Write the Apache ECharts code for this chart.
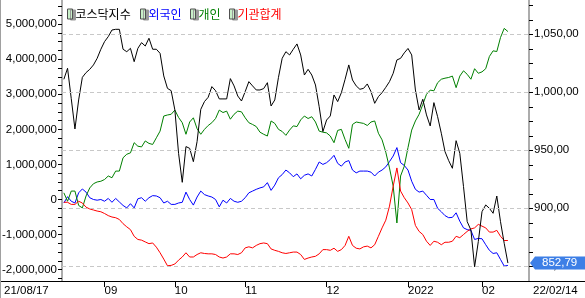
<!DOCTYPE html>
<html><head><meta charset="utf-8">
<script src="https://cdn.jsdelivr.net/npm/echarts@6/dist/echarts.min.js"></script>
<style>html,body{margin:0;padding:0;background:#fff;}#c{width:585px;height:298px;}</style>
</head><body><div id="c"></div>
<script>
// ---- data (trading days 21/08/17 .. 22/02/14) ----
const seriesNames = ['코스닥지수', '외국인', '개인', '기관합계'];
const kosdaq = [1011.2,1020.7,994.5,968.4,993.4,1012.9,1017.0,1019.8,1023.6,1029.3,
1037.1,1043.7,1048.0,1053.7,1054.3,1054.3,1037.1,1035.0,1037.9,1026.4,
1037.9,1042.8,1039.9,1046.6,1037.1,1037.1,1033.6,1014.1,1003.4,1001.4,
984.8,947.4,922.4,953.2,951.7,940.2,957.5,985.3,992.0,995.7,
1004.9,1001.4,994.3,994.3,994.3,1011.8,1005.5,996.8,992.5,1000.6,
1009.2,1005.5,1002.0,1002.0,1003.2,1008.3,988.2,993.4,1012.9,1029.3,
1035.0,1032.2,1037.1,1041.7,1032.2,1014.9,1019.8,1014.9,1006.3,987.6,
966.1,976.1,979.6,997.7,992.0,999.7,1011.2,1023.6,1010.6,1005.5,
1002.6,1003.4,1007.2,1000.6,990.5,996.3,999.7,1004.3,1009.2,1016.4,
1027.9,1029.3,1034.0,1037.8,1032.2,1002.0,984.8,994.0,980.5,971.0,
991.1,979.0,964.7,948.9,941.1,934.5,958.3,947.4,918.7,888.5,
881.3,849.6,871.3,897.1,902.9,900.0,895.7,910.6,888.5,869.8,852.79];
const foreign = [-100000,80000,-50000,-100000,190000,300000,210000,50000,0,-20000,
0,-50000,30000,-80000,30000,-70000,-170000,-240000,-120000,-240000,
20000,50000,-50000,50000,110000,100000,50000,-100000,-50000,-140000,
-140000,-100000,-80000,210000,0,-160000,70000,240000,140000,100000,
70000,0,-210000,-20000,-100000,30000,-50000,-80000,-50000,50000,
190000,240000,290000,330000,360000,480000,260000,410000,620000,710000,
840000,760000,650000,730000,590000,690000,730000,670000,860000,1070000,
1000000,1050000,1140000,1260000,1030000,950000,1070000,1110000,840000,760000,
810000,810000,810000,780000,670000,780000,840000,930000,1080000,1240000,
1480000,1050000,970000,840000,520000,290000,210000,240000,120000,0,
0,-250000,-350000,-460000,-520000,-510000,-380000,-620000,-810000,-860000,
-880000,-1140000,-1110000,-1120000,-1290000,-1450000,-1540000,-1520000,-1710000,-1900000,-1880000];
const individual = [190000,-50000,240000,240000,-170000,-240000,100000,330000,450000,500000,
520000,570000,670000,620000,810000,810000,1190000,1290000,1330000,1620000,
1520000,1500000,1670000,1600000,1570000,1760000,1950000,2380000,2410000,2430000,
2550000,2340000,2190000,1860000,2210000,2330000,2020000,1860000,2000000,2110000,
2190000,2310000,2550000,2480000,2520000,2290000,2430000,2520000,2500000,2330000,
2190000,2140000,2080000,1920000,1860000,1810000,2240000,2170000,2000000,1940000,
1830000,1980000,2100000,2080000,2270000,2380000,2310000,2360000,2210000,1950000,
1920000,1900000,1810000,1620000,1970000,2000000,1710000,1460000,2140000,2210000,
2190000,2170000,2110000,2210000,2240000,1890000,1700000,1350000,900000,380000,
-670000,670000,950000,1480000,1980000,2240000,2430000,2710000,3000000,3120000,
3100000,3330000,3430000,3460000,3480000,3520000,3190000,3520000,3670000,3570000,
3430000,3730000,3600000,3640000,3730000,4080000,4240000,4220000,4620000,4880000,4790000];
const institution = [-80000,-80000,-140000,-140000,-50000,-100000,-220000,-270000,-300000,-330000,
-350000,-400000,-460000,-500000,-520000,-570000,-690000,-780000,-860000,-1050000,
-1140000,-1160000,-1210000,-1260000,-1240000,-1360000,-1520000,-1700000,-1890000,-1880000,
-1840000,-1730000,-1640000,-1520000,-1640000,-1640000,-1570000,-1520000,-1540000,-1550000,
-1550000,-1570000,-1640000,-1670000,-1640000,-1550000,-1550000,-1570000,-1520000,-1380000,
-1350000,-1380000,-1310000,-1260000,-1240000,-1260000,-1410000,-1450000,-1480000,-1520000,
-1540000,-1520000,-1500000,-1500000,-1570000,-1710000,-1670000,-1640000,-1620000,-1550000,
-1430000,-1430000,-1450000,-1390000,-1480000,-1430000,-1310000,-1050000,-1310000,-1390000,
-1410000,-1350000,-1330000,-1380000,-1290000,-1050000,-810000,-590000,-190000,380000,
900000,240000,50000,-100000,-290000,-740000,-910000,-1000000,-1190000,-1310000,
-1190000,-1220000,-1290000,-1220000,-1220000,-1190000,-1050000,-1090000,-1000000,-910000,
-840000,-810000,-710000,-760000,-810000,-930000,-930000,-880000,-1050000,-1170000,-1170000];
const monthTicks = [11, 30, 49, 71, 93, 113];          // first trading day of each month (index)
const monthLabels = ['09', '10', '11', '12', '2022', '02'];
const rangeLabels = ['21/08/17', '22/02/14'];
const leftLabelValues = [-2000000,-1000000,0,1000000,2000000,3000000,4000000,5000000];
const rightLabelValues = [850, 900, 950, 1000, 1050];

// ---- styling / layout ----
const FONT = '"Liberation Sans", Arial, sans-serif';
const KFONT = '"Noto Sans CJK KR", "Liberation Sans", sans-serif';
const colors = ['#000000', '#0000ff', '#008000', '#ff0000'];
const leftTicks = []; for (let v = -2250000; v <= 5500000; v += 250000) leftTicks.push(v);
const rightTicks = []; for (let v = 837.5; v <= 1075; v += 12.5) rightTicks.push(v);
const fmtRight = v => { const p = v.toFixed(2).split('.'); return Number(p[0]).toLocaleString('en-US') + ',' + p[1]; };
const toPairs = arr => arr.map((v, i) => [i, v]);

const chart = echarts.init(document.getElementById('c'), null, {renderer: 'canvas'});
const legendLefts = [62, 135, 185, 224];
const option = {
  animation: false,
  backgroundColor: '#ffffff',
  grid: {left: 62, right: 56, top: 0, bottom: 17, containLabel: false, outerBoundsMode: 'none'},
  legend: seriesNames.map((n, k) => ({
    left: legendLefts[k], top: 3, data: [n], selectedMode: false,
    icon: 'rect', itemWidth: 5, itemHeight: 10, itemGap: 0,
    itemStyle: {color: '#c8f0c8', borderColor: '#505050', borderWidth: 1,
      shadowColor: '#9a9a9a', shadowOffsetX: 3, shadowOffsetY: 1, shadowBlur: 0},
    textStyle: {color: colors[k], fontSize: 12, fontFamily: KFONT, padding: [0, 0, 0, -2]}
  })),
  xAxis: {
    type: 'value', min: -0.5, max: 125.7,
    axisLine: {show: true, onZero: false, lineStyle: {color: '#000', width: 1}},
    axisTick: {show: true, customValues: monthTicks, length: 6, inside: false, lineStyle: {color: '#000'}},
    axisLabel: {customValues: monthTicks, formatter: v => monthLabels[monthTicks.indexOf(v)],
      align: 'left', margin: 4, padding: [0, 0, 0, 0], fontSize: 11.5, color: '#000', fontFamily: FONT},
    splitLine: {show: false}
  },
  yAxis: [{
    type: 'value', position: 'left', min: -2325000, max: 5690000,
    axisLine: {show: true, onZero: false, lineStyle: {color: '#909090', width: 1.5}},
    axisTick: {show: true, customValues: leftTicks, length: 4, inside: false, lineStyle: {color: '#000'}},
    axisLabel: {customValues: leftLabelValues, formatter: v => v.toLocaleString('en-US'),
      margin: 5, fontSize: 11.5, color: '#000', fontFamily: FONT},
    splitLine: {show: false}
  }, {
    type: 'value', position: 'right', min: 837.33, max: 1079.57,
    axisLine: {show: true, onZero: false, lineStyle: {color: '#909090', width: 1.5}},
    axisTick: {show: true, customValues: rightTicks, length: 4, inside: false, lineStyle: {color: '#000'}},
    axisLabel: {customValues: rightLabelValues, formatter: v => fmtRight(v),
      margin: 5, fontSize: 11.5, color: '#000', fontFamily: FONT},
    splitLine: {show: false}
  }],
  series: [
    {type: 'line', name: '__grid', yAxisIndex: 1, data: [], z: 1, silent: true,
      markLine: {silent: true, symbol: 'none', animation: false, label: {show: false},
        lineStyle: {type: [4, 3], color: '#c8c8c8', width: 1},
        data: rightLabelValues.map(v => ({yAxis: v}))}},
    {type: 'line', name: seriesNames[1], yAxisIndex: 0, data: toPairs(foreign), showSymbol: false,
      lineStyle: {color: colors[1], width: 1}, itemStyle: {color: colors[1]}, z: 2},
    {type: 'line', name: seriesNames[2], yAxisIndex: 0, data: toPairs(individual), showSymbol: false,
      lineStyle: {color: colors[2], width: 1}, itemStyle: {color: colors[2]}, z: 2},
    {type: 'line', name: seriesNames[3], yAxisIndex: 0, data: toPairs(institution), showSymbol: false,
      lineStyle: {color: colors[3], width: 1}, itemStyle: {color: colors[3]}, z: 2},
    {type: 'line', name: seriesNames[0], yAxisIndex: 1, data: toPairs(kosdaq), showSymbol: false,
      lineStyle: {color: colors[0], width: 1}, itemStyle: {color: colors[0]}, z: 3}
  ]
};
chart.setOption(option);

// last-value marker on the right axis, placed with the library's own scale
const last = kosdaq[kosdaq.length - 1];
const yLast = chart.convertToPixel({yAxisIndex: 1}, last);
const xAxisPx = chart.convertToPixel({xAxisIndex: 0}, 125.7);
chart.setOption({
  graphic: [
    {type: 'line', shape: {x1: 0, y1: 281.5, x2: 585, y2: 281.5}, style: {stroke: '#000', lineWidth: 1}, z: 10},
    {type: 'line', shape: {x1: 0.5, y1: 0, x2: 0.5, y2: 298}, style: {stroke: '#a0a0a0', lineWidth: 1}, z: 10},
    {type: 'text', left: 4, top: 285, style: {text: rangeLabels[0], font: '11.5px ' + FONT, fill: '#000'}, z: 10},
    {type: 'text', left: 533, top: 285, style: {text: rangeLabels[1], font: '11.5px ' + FONT, fill: '#000'}, z: 10},
    {type: 'polygon', shape: {points: [[xAxisPx + 1, yLast], [xAxisPx + 6, yLast - 6.5], [585, yLast - 6.5], [585, yLast + 6.5], [xAxisPx + 6, yLast + 6.5]]},
      style: {fill: '#3d7fe6'}, z: 20},
    {type: 'text', x: xAxisPx + 13, y: yLast, style: {text: fmtRight(last), font: '11.5px ' + FONT, fill: '#fff', verticalAlign: 'middle'}, z: 21}
  ]
});
</script></body></html>
